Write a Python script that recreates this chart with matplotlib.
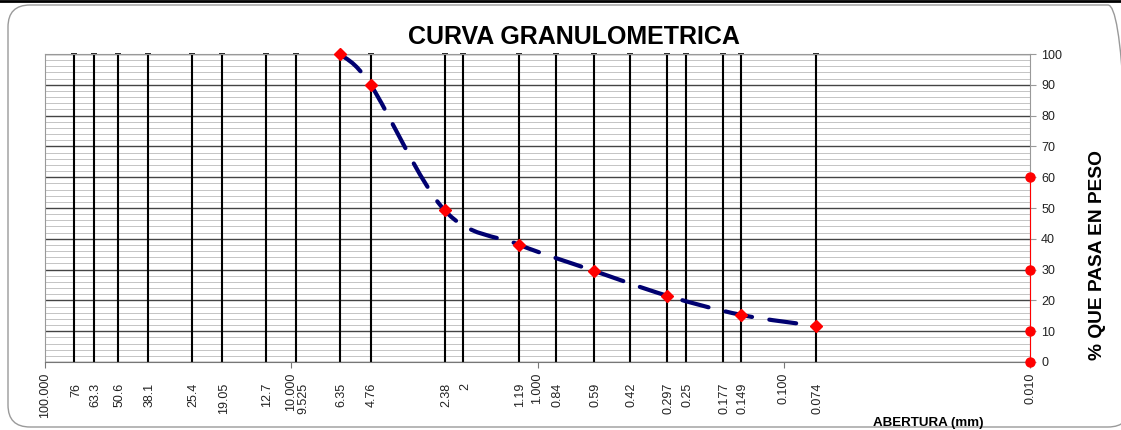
"""
Curva granulometrica: % que pasa vs abertura de tamiz (escala log invertida).
"""

import matplotlib

matplotlib.use("Agg")
import matplotlib.pyplot as plt
import numpy as np
from matplotlib.patches import FancyBboxPatch, PathPatch
from matplotlib.path import Path
from matplotlib.transforms import IdentityTransform, blended_transform_factory, offset_copy

plt.rcParams["font.family"] = ["Liberation Sans", "DejaVu Sans"]

# tamices (mm) con linea vertical y etiqueta
sieves = [76, 63.3, 50.6, 38.1, 25.4, 19.05, 12.7, 9.525, 6.35, 4.76,
          2.38, 2, 1.19, 0.84, 0.59, 0.42, 0.297, 0.25, 0.177, 0.149, 0.074]
sieve_labels = ["76", "63.3", "50.6", "38.1", "25.4", "19.05", "12.7", "9.525",
                "6.35", "4.76", "2.38", "2", "1.19", "0.84", "0.59", "0.42",
                "0.297", "0.25", "0.177", "0.149", "0.074"]
decades = [100, 10, 1, 0.1, 0.01]
decade_labels = ["100.000", "10.000", "1.000", "0.100", "0.010"]

# curva medida
opening = [6.35, 4.76, 2.38, 1.19, 0.59, 0.297, 0.149, 0.074]
passing = [100, 90, 49.2, 38.1, 29.6, 21.5, 15.3, 11.7]

# serie de referencia sobre el eje derecho
ref_x = [0.01, 0.01, 0.01, 0.01]
ref_y = [0, 10, 30, 60]


def smooth_path(xs, ys):
    """Bezier tipo Excel (suavizado) trazado en espacio log10(x)."""
    lx = np.log10(xs)
    ys = np.asarray(ys, dtype=float)
    n = len(lx)
    verts = [(xs[0], ys[0])]
    codes = [Path.MOVETO]
    for i in range(n - 1):
        p0 = (lx[max(i - 1, 0)], ys[max(i - 1, 0)])
        p1 = (lx[i], ys[i])
        p2 = (lx[i + 1], ys[i + 1])
        p3 = (lx[min(i + 2, n - 1)], ys[min(i + 2, n - 1)])
        c1 = (p1[0] + (p2[0] - p0[0]) / 6, p1[1] + (p2[1] - p0[1]) / 6)
        c2 = (p2[0] - (p3[0] - p1[0]) / 6, p2[1] - (p3[1] - p1[1]) / 6)
        verts += [(10 ** c1[0], c1[1]), (10 ** c2[0], c2[1]), (xs[i + 1], ys[i + 1])]
        codes += [Path.CURVE4] * 3
    return Path(verts, codes)


W, H = 1121, 430
fig = plt.figure(figsize=(W / 100, H / 100), dpi=100)
ax = fig.add_axes([45 / W, 1 - 362 / H, (1030 - 45) / W, (362 - 54) / H])

ax.set_xscale("log")
ax.set_xlim(100, 0.01)
ax.set_ylim(0, 100)

# rejilla horizontal
for y in np.arange(0, 101, 2):
    major = y % 10 == 0
    ax.axhline(y, color="#444444" if major else "#c4c4c4",
               lw=1.0 if major else 0.7, zorder=1)

# lineas de tamiz
for s in sieves:
    ax.axvline(s, color="black", lw=1.5, zorder=2)
ax.plot(sieves, [100] * len(sieves), "_", ms=5, color="black", mew=1.2,
        clip_on=False, zorder=2)

# curva suavizada discontinua
ax.add_patch(PathPatch(smooth_path(opening, passing), fill=False,
                       edgecolor="#000070", lw=3.0, linestyle=(0, (6.5, 4.2)),
                       capstyle="round", zorder=3))
ax.plot(opening, passing, "D", color="#ff0000", ms=6, zorder=4, clip_on=False)

ax.plot(ref_x, ref_y, "-o", color="#ff0000", lw=0.8, ms=6.5, zorder=5,
        clip_on=False)

# ejes
for side in ["left", "top", "right"]:
    ax.spines[side].set_color("#999999")
ax.spines["bottom"].set_color("#777777")
ax.yaxis.tick_right()
ax.set_yticks(np.arange(0, 101, 10))
ax.tick_params(axis="y", direction="out", length=4, color="#999999",
               labelsize=9, labelcolor="#222222", pad=4)
ax.set_xticks(decades)
ax.set_xticklabels([])
ax.minorticks_off()
ax.tick_params(axis="x", which="both", direction="out", length=4,
               color="#777777")

# etiquetas eje x
tr = blended_transform_factory(ax.transData, fig.transFigure)
for d, lab in zip(decades, decade_labels):
    ax.text(d, 1 - 373 / H, lab, transform=tr, rotation=90, ha="center",
            va="top", fontsize=9, color="#222222")
for s, lab in zip(sieves, sieve_labels):
    shift = 7 if lab == "9.525" else 1.5
    ax.text(s, 1 - 383 / H, lab,
            transform=offset_copy(tr, fig=fig, x=shift, units="dots"),
            rotation=90, ha="center", va="top", fontsize=9, color="#222222")

fig.text(574 / W, 1 - 37 / H, "CURVA GRANULOMETRICA", ha="center",
         va="center", fontsize=18, fontweight="bold")
fig.text(928 / W, 1 - 423 / H, "ABERTURA (mm)", ha="center", va="center",
         fontsize=9.6, fontweight="bold")
fig.text(1097 / W, 1 - 255 / H, "% QUE PASA EN PESO", ha="center",
         va="center", rotation=90, fontsize=13.8, fontweight="bold")

# marco redondeado (en pixeles)
fig.patches.append(FancyBboxPatch((8, 3), 1130 - 8, 425 - 3,
                                  boxstyle="round,pad=0,rounding_size=22",
                                  transform=IdentityTransform(), fill=False,
                                  edgecolor="#9a9a9a", lw=1.0))
fig.add_artist(plt.Line2D([0, 1], [1 - 1 / H, 1 - 1 / H],
                          transform=fig.transFigure, color="black", lw=2))

fig.savefig("out.png", dpi=100)
